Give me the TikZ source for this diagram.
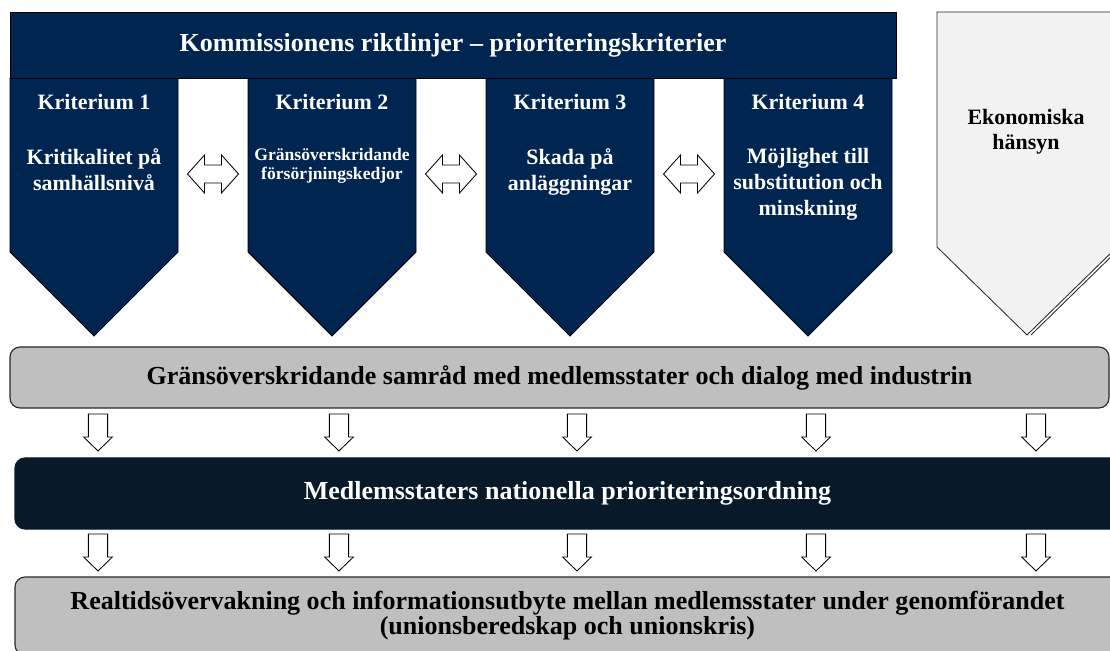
\documentclass[tikz,border=0pt]{standalone}
\usepackage{fontspec}
\setmainfont{Liberation Serif}
\usetikzlibrary{positioning}

\definecolor{kritblue}{RGB}{0,37,80}
\definecolor{ordnavy}{RGB}{8,26,42}
\definecolor{bargray}{RGB}{191,191,191}
\definecolor{ekogray}{RGB}{242,242,242}
\definecolor{edgegray}{RGB}{40,40,40}

\tikzset{
  kritshape/.style={draw=black, line width=0.6pt, fill=kritblue},
  krithead/.style={text=white, inner sep=0pt, font=\fontsize{15.6}{18.5}\selectfont\bfseries},
  kritdesc/.style={text=white, inner sep=0pt, align=center, font=\fontsize{15.6}{18.5}\selectfont\bfseries},
  kritsmall/.style={text=white, inner sep=0pt, align=center, font=\fontsize{12.5}{13.5}\selectfont\bfseries},
  bar/.style={draw=edgegray, line width=0.8pt, rounded corners=0.25cm, align=center,
    font=\fontsize{18.5}{17.8}\selectfont\bfseries},
  blockarrow/.style={draw=black, fill=white, line width=0.6pt},
  downblock/.pic={\draw[blockarrow] (-0.24,0) -- (-0.24,-0.575) -- (-0.36,-0.575) -- (0,-0.925)
    -- (0.36,-0.575) -- (0.24,-0.575) -- (0.24,0) -- cycle;},
  twinblock/.pic={\draw[blockarrow] (-0.6375,0) -- (-0.2125,0.475) -- (-0.2125,0.225) -- (0.2125,0.225)
    -- (0.2125,0.475) -- (0.6375,0) -- (0.2125,-0.475) -- (0.2125,-0.225) -- (-0.2125,-0.225)
    -- (-0.2125,-0.475) -- cycle;}
}

\begin{document}
\begin{tikzpicture}
\useasboundingbox[fill=white] (0,0) rectangle (27.75,16.25);

% criteria
\draw[kritshape] (0.25 cm,14.3 cm) -- (0.25 cm,9.95 cm) -- (2.35 cm,7.85 cm) -- (4.45 cm,9.95 cm) -- (4.45 cm,14.3 cm) -- cycle;
\draw[kritshape] (6.2 cm,14.3 cm) -- (6.2 cm,9.95 cm) -- (8.3 cm,7.85 cm) -- (10.4 cm,9.95 cm) -- (10.4 cm,14.3 cm) -- cycle;
\draw[kritshape] (12.15 cm,14.3 cm) -- (12.15 cm,9.95 cm) -- (14.25 cm,7.85 cm) -- (16.35 cm,9.95 cm) -- (16.35 cm,14.3 cm) -- cycle;
\draw[kritshape] (18.1 cm,14.3 cm) -- (18.1 cm,9.95 cm) -- (20.2 cm,7.85 cm) -- (22.3 cm,9.95 cm) -- (22.3 cm,14.3 cm) -- cycle;
\node[draw=black, line width=0.6pt, fill=kritblue, text=white, minimum width=22.15cm, minimum height=1.65cm, inner sep=0pt,
  font=\fontsize{18.5}{22}\selectfont\bfseries] (banner) at (11.325 cm,15.125 cm) {Kommissionens riktlinjer -- prioriteringskriterier};

\node[krithead] (k1head) at (2.35 cm,13.7 cm) {Kriterium 1};
\node[krithead] (k2head) at (8.3 cm,13.7 cm) {Kriterium 2};
\node[krithead] (k3head) at (14.25 cm,13.7 cm) {Kriterium 3};
\node[krithead] (k4head) at (20.2 cm,13.7 cm) {Kriterium 4};
\node[kritdesc, below=0.95cm of k1head] (k1desc) {Kritikalitet på\\samhällsnivå};
\node[kritsmall, below=0.95cm of k2head] (k2desc) {Gränsöverskridande\\försörjningskedjor};
\node[kritdesc, below=0.95cm of k3head] (k3desc) {Skada på\\anläggningar};
\node[kritdesc, below=0.95cm of k4head] (k4desc) {Möjlighet till\\substitution och\\minskning};

\pic at (5.325 cm,11.9 cm) {twinblock};
\pic at (11.275 cm,11.9 cm) {twinblock};
\pic at (17.225 cm,11.9 cm) {twinblock};

% economic side
\draw[draw=edgegray, line width=0.6pt, fill=ekogray] (23.425 cm,15.95 cm) -- (23.425 cm,10.075 cm) -- (25.675 cm,7.875 cm)
  -- (27.925 cm,10.075 cm) -- (27.925 cm,15.95 cm) -- cycle;
\draw[draw=edgegray, line width=0.6pt] (25.775 cm,7.875 cm) -- (28.025 cm,10.075 cm);
\node[inner sep=0pt, align=center, font=\fontsize{15.6}{17.8}\selectfont\bfseries] (eko) at (25.65 cm,12.96 cm) {Ekonomiska\\hänsyn};

% process bars
\node[bar, fill=bargray, minimum width=27.475cm, minimum height=1.525cm] (samrad) at (13.9875 cm,6.8125 cm)
  {Gränsöverskridande samråd med medlemsstater och dialog med industrin};
\node[bar, draw=ordnavy, fill=ordnavy, text=white, minimum width=27.625cm, minimum height=1.775cm] (ordning) at (14.1875 cm,3.9125 cm)
  {Medlemsstaters nationella prioriteringsordning};
\node[bar, fill=bargray, minimum width=27.625cm, minimum height=1.95cm] (realtid) at (14.1875 cm,0.85 cm)
  {Realtidsövervakning och informationsutbyte mellan medlemsstater under genomförandet\\(unionsberedskap och unionskris)};

\pic at (2.45 cm,5.9 cm) {downblock};
\pic at (8.475 cm,5.9 cm) {downblock};
\pic at (14.425 cm,5.9 cm) {downblock};
\pic at (20.4 cm,5.9 cm) {downblock};
\pic at (25.9 cm,5.9 cm) {downblock};
\pic at (2.45 cm,2.9 cm) {downblock};
\pic at (8.475 cm,2.9 cm) {downblock};
\pic at (14.425 cm,2.9 cm) {downblock};
\pic at (20.4 cm,2.9 cm) {downblock};
\pic at (25.9 cm,2.9 cm) {downblock};
\end{tikzpicture}
\end{document}
